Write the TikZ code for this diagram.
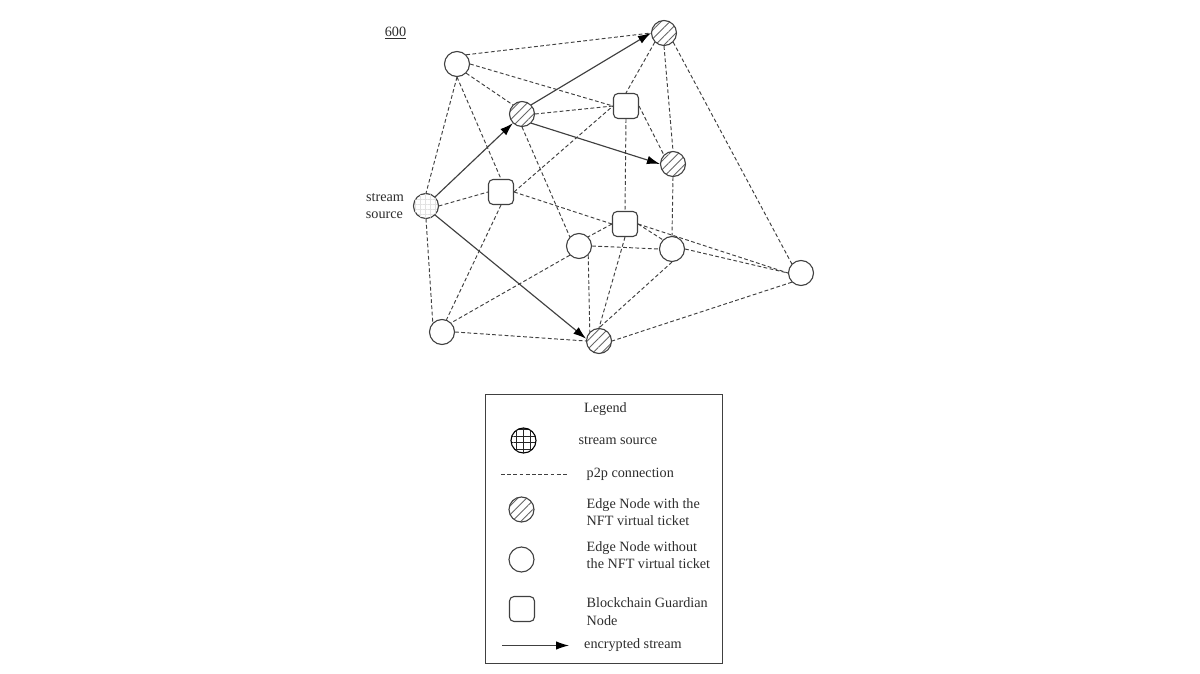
\documentclass[tikz,border=0pt]{standalone}
\usepackage{fontspec}
\setmainfont{Liberation Serif}
\usetikzlibrary{patterns.meta,arrows.meta}
\definecolor{ink}{HTML}{404040}
\tikzset{
  x=1pt,y=-1pt,
  every node/.style={font=\fontsize{14.2}{17.5}\selectfont,text=ink!70!black,inner sep=0pt},
  plain/.style={circle,draw=ink,line width=1.1pt,fill=white,minimum size=25pt},
  hatched/.style={plain,pattern={Lines[angle=45,distance=6.2pt,line width=.9pt]},pattern color=ink!80},
  gridded/.style={plain,pattern={Lines[angle=0,distance=5pt,line width=.5pt]},pattern color=ink!15,
    preaction={fill=white},postaction={pattern={Lines[angle=90,distance=5pt,line width=.5pt]},pattern color=ink!15}},
  griddark/.style={plain,draw=black,preaction={fill=white},
    pattern={Lines[angle=0,distance=6.8pt,line width=.85pt]},pattern color=black!85,
    postaction={pattern={Lines[angle=90,distance=6.8pt,line width=.85pt]},pattern color=black!85}},
  guard/.style={rectangle,rounded corners=4.5pt,draw=ink,line width=1.1pt,fill=white,minimum size=25pt},
  p2p/.style={draw=ink,line width=.95pt,dash pattern=on 3.8pt off 2.4pt},
  stream/.style={draw=ink,line width=1.15pt,-{Latex[length=13pt,width=8.5pt,color=black]}},
  lab/.style={anchor=base west,align=left},
}
\begin{document}
\begin{tikzpicture}
\useasboundingbox (0,0) rectangle (1200,674);
\path
 (426,206) coordinate (pA)
 (457,64)  coordinate (pB)
 (522,114) coordinate (pC)
 (664,33)  coordinate (pD)
 (626,106) coordinate (pE)
 (673,164) coordinate (pF)
 (501,192) coordinate (pG)
 (625,224) coordinate (pH)
 (579,246) coordinate (pI)
 (672,249) coordinate (pJ)
 (801,273) coordinate (pK)
 (442,332) coordinate (pL)
 (599,341) coordinate (pM);
\node[gridded] (A) at (pA) {};
\node[plain]   (B) at (pB) {};
\node[hatched] (C) at (pC) {};
\node[hatched] (D) at (pD) {};
\node[guard]   (E) at (pE) {};
\node[hatched] (F) at (pF) {};
\node[guard]   (G) at (pG) {};
\node[guard]   (H) at (pH) {};
\node[plain]   (I) at (pI) {};
\node[plain]   (J) at (pJ) {};
\node[plain]   (K) at (pK) {};
\node[plain]   (L) at (pL) {};
\node[hatched] (M) at (pM) {};
% p2p links, anchored on the shape's connection points
\draw[p2p] (B.45) -- (D.180);
\draw[p2p] (B.0) -- (E.180);
\draw[p2p] (B.315) -- (C.135);
\draw[p2p] (B.270) -- (A.90);
\draw[p2p] (B.270) -- (G.90);
\draw[p2p] (C.0) -- (E.180);
\draw[p2p] (C.270) -- (I.135);
\draw[p2p] (D.225) -- (E.90);
\draw[p2p] (D.270) -- (F.90);
\draw[p2p] (D.315) -- (K.135);
\draw[p2p] (E.0) -- (F.135);
\draw[p2p] (E.270) -- (H.90);
\draw[p2p] (G.0) -- (E.180);
\draw[p2p] (A.0) -- (G.180);
\draw[p2p] (A.270) -- (L.135);
\draw[p2p] (G.270) -- (L.70);
\draw[p2p] (G.0) -- (H.180);
\draw[p2p] (F.270) -- (J.90);
\draw[p2p] (H.180) -- (I.45);
\draw[p2p] (H.270) -- (M.90);
\draw[p2p] (H.0) -- (J.135);
\draw[p2p] (H.0) -- (K.180);
\draw[p2p] (I.0) -- (J.180);
\draw[p2p] (I.225) -- (L.45);
\draw[p2p] (I.315) -- (M.135);
\draw[p2p] (J.270) -- (M.90);
\draw[p2p] (J.0) -- (K.180);
\draw[p2p] (K.225) -- (M.0);
\draw[p2p] (L.0) -- (M.180);
% encrypted streams
\draw[stream] (A.45) -- (C.225);
\draw[stream] (C.45) -- (D.180);
\draw[stream] (C.315) -- (F.180);
\draw[stream] (A.315) -- (M.170);
% labels
\node[anchor=base] (n600) at (395.5,36.5) {\underline{600}};
\node[anchor=base] (src1) at (385,201) {stream};
\node[anchor=base] (src2) at (384.5,218.5) {source};
% legend
\node[draw=ink,line width=1pt,minimum width=237pt,minimum height=269pt] (box) at (603.5,528.5) {};
\node[anchor=base] (lt) at (605.5,412) {Legend};
\node[griddark] (l1) at (523.5,440.5) {};
\node[lab] (t1) at (578.5,444) {stream source};
\coordinate (d1) at (501,474);
\coordinate (d2) at (569,474);
\draw[p2p] (d1) -- (d2);
\node[lab] (t2) at (586.5,477) {p2p connection};
\node[hatched] (l3) at (521.5,509.5) {};
\node[lab] (t3) at (586.5,508) {Edge Node with the};
\node[lab] (t3b) at (586.5,525.5) {NFT virtual ticket};
\node[plain] (l4) at (521.5,559.5) {};
\node[lab] (t4) at (586.5,551) {Edge Node without};
\node[lab] (t4b) at (586.5,568.5) {the NFT virtual ticket};
\node[guard] (l5) at (522,609) {};
\node[lab] (t5) at (586.5,607.5) {Blockchain Guardian};
\node[lab] (t5b) at (586.5,625) {Node};
\coordinate (s1) at (502,645.5);
\coordinate (s2) at (569,645.5);
\draw[stream] (s1) -- (s2);
\node[lab] (t6) at (584,648) {encrypted stream};
\end{tikzpicture}
\end{document}
